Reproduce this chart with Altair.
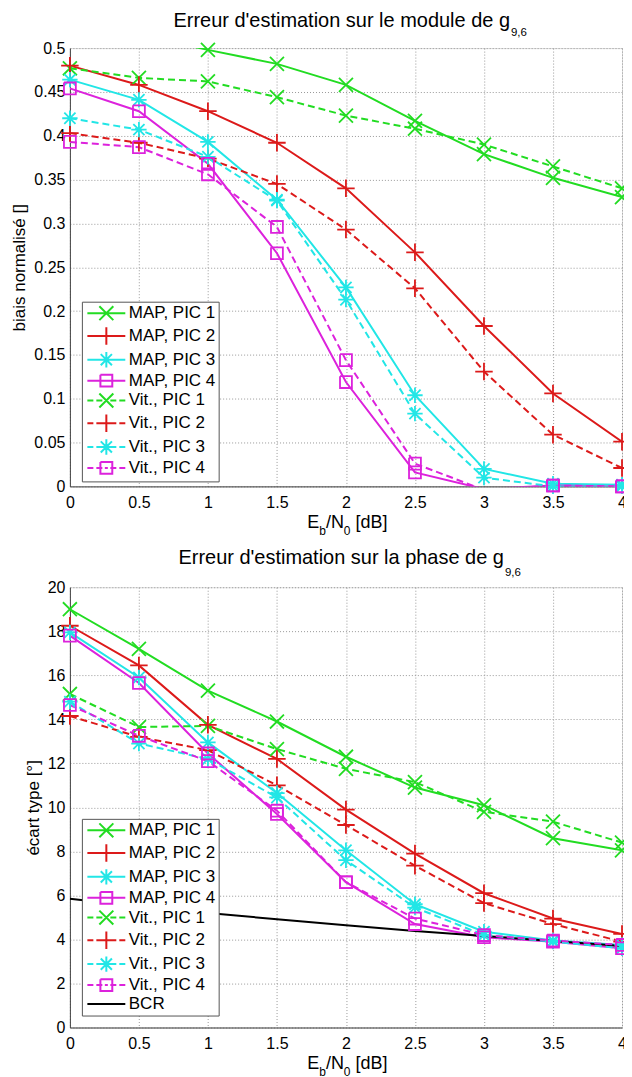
import altair as alt
import pandas as pd

# ---------------- data ----------------
x_vals = [0, 0.5, 1, 1.5, 2, 2.5, 3, 3.5, 4]

series_top = ["MAP, PIC 1", "MAP, PIC 2", "MAP, PIC 3", "MAP, PIC 4",
              "Vit., PIC 1", "Vit., PIC 2", "Vit., PIC 3", "Vit., PIC 4"]
series_bottom = series_top + ["BCR"]

# module (biais normalisé)
mod_map_pic1 = [0.530, 0.515, 0.498, 0.482, 0.458, 0.417, 0.379, 0.352, 0.330]
mod_map_pic2 = [0.480, 0.458, 0.428, 0.392, 0.340, 0.267, 0.183, 0.106, 0.051]
mod_map_pic3 = [0.464, 0.441, 0.393, 0.327, 0.227, 0.104, 0.020, 0.003, 0.002]
mod_map_pic4 = [0.454, 0.428, 0.368, 0.266, 0.119, 0.016, -0.003, 0.001, 0.000]
mod_vit_pic1 = [0.477, 0.466, 0.462, 0.444, 0.423, 0.408, 0.390, 0.365, 0.340]
mod_vit_pic2 = [0.403, 0.392, 0.374, 0.345, 0.293, 0.226, 0.131, 0.059, 0.021]
mod_vit_pic3 = [0.420, 0.407, 0.376, 0.326, 0.213, 0.083, 0.010, 0.000, 0.000]
mod_vit_pic4 = [0.393, 0.387, 0.356, 0.296, 0.144, 0.026, -0.004, 0.001, 0.000]

# phase (écart type, degrés)
ph_map_pic1 = [19.0, 17.2, 15.3, 13.9, 12.3, 10.9, 10.1, 8.6, 8.05]
ph_map_pic2 = [18.25, 16.45, 13.75, 12.2, 9.9, 7.9, 6.1, 4.95, 4.25]
ph_map_pic3 = [17.95, 15.9, 12.95, 10.65, 8.05, 5.6, 4.35, 3.95, 3.75]
ph_map_pic4 = [17.8, 15.65, 12.45, 9.7, 6.6, 4.7, 4.1, 3.9, 3.6]
ph_vit_pic1 = [15.15, 13.65, 13.7, 12.65, 11.75, 11.15, 9.8, 9.35, 8.4]
ph_vit_pic2 = [14.15, 13.2, 12.6, 11.0, 9.2, 7.35, 5.65, 4.7, 3.9]
ph_vit_pic3 = [14.8, 12.9, 12.2, 10.45, 7.6, 5.45, 4.2, 3.9, 3.6]
ph_vit_pic4 = [14.65, 13.25, 12.1, 9.85, 6.6, 4.95, 4.2, 3.95, 3.75]
ph_bcr = [5.85, 5.5, 5.2, 4.92, 4.65, 4.38, 4.16, 3.93, 3.7]

x_ticks = [0, 0.5, 1, 1.5, 2, 2.5, 3, 3.5, 4]
y_ticks_top = [0, 0.05, 0.1, 0.15, 0.2, 0.25, 0.3, 0.35, 0.4, 0.45, 0.5]
y_ticks_bottom = [0, 2, 4, 6, 8, 10, 12, 14, 16, 18, 20]

# ---------------- styles ----------------
FONT = "Liberation Sans"
GREEN, RED, CYAN, MAGENTA, BLACK = "#22dc22", "#dc1a1a", "#22e6e6", "#dc22dc", "#000000"
style = {
    "MAP, PIC 1": (GREEN, "x", False), "MAP, PIC 2": (RED, "plus", False),
    "MAP, PIC 3": (CYAN, "star", False), "MAP, PIC 4": (MAGENTA, "square", False),
    "Vit., PIC 1": (GREEN, "x", True), "Vit., PIC 2": (RED, "plus", True),
    "Vit., PIC 3": (CYAN, "star", True), "Vit., PIC 4": (MAGENTA, "square", True),
    "BCR": (BLACK, "none", False),
}
MARKERS = {
    "x": [[(-1, -1), (1, 1)], [(-1, 1), (1, -1)]],
    "plus": [[(-1.25, 0), (1.25, 0)], [(0, -1.25), (0, 1.25)]],
    "star": [[(-1.1, 0), (1.1, 0)], [(0, -1.1), (0, 1.1)],
             [(-0.8, -0.8), (0.8, 0.8)], [(-0.8, 0.8), (0.8, -0.8)]],
    "square": [[(-0.85, -0.85), (0.85, -0.85), (0.85, 0.85), (-0.85, 0.85), (-0.85, -0.85)]],
    "none": [],
}
U = 7.0  # px per path unit
SIZE = (2 * U) ** 2


def to_path(polys, dx=0.0):
    out = []
    for poly in polys:
        pts = [f"{x + dx:.3f},{y:.3f}" for x, y in poly]
        out.append("M" + "L".join(pts))
    return "".join(out)


LEG_CX = 13.0 / U
HALF = 19.0 / U
solid_seg = [[(-HALF, 0), (HALF, 0)]]
dash_px = [(-19, -13), (-10, -4), (-1.5, 1.5), (4, 10), (13, 19)]
dash_seg = [[(a / U, 0), (b / U, 0)] for a, b in dash_px]


def legend_path(name):
    _, m, dashed = style[name]
    return to_path((dash_seg if dashed else solid_seg) + MARKERS[m], LEG_CX)


def make_df(series, arrays):
    rows = []
    for s, arr in zip(series, arrays):
        _, m, dashed = style[s]
        for xv, yv in zip(x_vals, arr):
            rows.append({"x": xv, "y": yv, "series": s, "marker": m, "dashed": dashed})
    return pd.DataFrame(rows)


df_top = make_df(series_top, [mod_map_pic1, mod_map_pic2, mod_map_pic3, mod_map_pic4,
                              mod_vit_pic1, mod_vit_pic2, mod_vit_pic3, mod_vit_pic4])
df_bot = make_df(series_bottom, [ph_map_pic1, ph_map_pic2, ph_map_pic3, ph_map_pic4,
                                 ph_vit_pic1, ph_vit_pic2, ph_vit_pic3, ph_vit_pic4, ph_bcr])

W = 553


def text_layer(txt, px, py, size, align="left"):
    return alt.Chart(alt.Data(values=[{"t": txt}])).mark_text(
        font=FONT, fontSize=size, align=align, baseline="alphabetic", color="black"
    ).encode(x=alt.value(px), y=alt.value(py), text="t:N")


def panel(df, series, ymax, yticks, yfmt, ytitle, title_main, title_end, t_y, s_y,
          H, leg_y):
    colors = [style[s][0] for s in series]
    xenc = alt.X("x:Q", scale=alt.Scale(domain=[0, 4], nice=False),
                 axis=alt.Axis(values=x_ticks, format="~g", title=None, labelFlush=False,
                               labelFont=FONT, labelFontSize=16, labelColor="black",
                               labelPadding=8, ticks=False, tickSize=0, grid=True,
                               gridDash=[1, 2], gridColor="#999999", domainColor="#444444",
                               labelOverlap=False))
    yenc = alt.Y("y:Q", scale=alt.Scale(domain=[0, ymax], nice=False, zero=True),
                 axis=alt.Axis(values=yticks, format=yfmt, title=ytitle,
                               labelFont=FONT, labelFontSize=16, labelColor="black",
                               labelPadding=5, ticks=False, tickSize=0, grid=True,
                               gridDash=[1, 2], gridColor="#999999", domainColor="#444444",
                               titleFont=FONT, titleFontSize=17, titleFontWeight="normal",
                               titleColor="black", titlePadding=5, labelOverlap=False))
    cscale = alt.Scale(domain=series, range=colors)
    base = alt.Chart(df)
    layers = []
    leg = alt.Legend(orient="none", legendX=12, legendY=leg_y, title=None,
                     labelFont=FONT, labelFontSize=17, labelColor="black", labelLimit=300,
                     symbolSize=SIZE, symbolStrokeWidth=2, symbolOpacity=1,
                     labelOffset=27, rowPadding=-2.2,
                     padding=3, strokeColor="#555555", fillColor="white", cornerRadius=0)
    # legend-carrying layer first so its legend settings win the merge
    layers.append(base.transform_filter("datum.x == 0").mark_point(
        filled=False, opacity=0, strokeWidth=2, clip=True).encode(
        x=xenc, y=yenc,
        color=alt.Color("series:N", scale=cscale, legend=leg),
        shape=alt.Shape("series:N", scale=alt.Scale(domain=series,
                                                    range=[legend_path(s) for s in series]),
                        legend=leg)))
    layers.append(base.transform_filter("!datum.dashed").mark_line(clip=True, strokeWidth=2).encode(
        x=xenc, y=yenc, color=alt.Color("series:N", scale=cscale)))
    layers.append(base.transform_filter("datum.dashed").mark_line(
        clip=True, strokeWidth=2, strokeDash=[7, 4]).encode(
        x=xenc, y=yenc, color=alt.Color("series:N", scale=cscale)))
    for m in ["x", "plus", "star", "square"]:
        layers.append(base.transform_filter(
            f"datum.marker == '{m}' && datum.y >= 0 && datum.y <= {ymax}").mark_point(
            shape=to_path(MARKERS[m]), filled=False, size=SIZE, strokeWidth=1.8, opacity=1,
            clip=False).encode(x=xenc, y=yenc,
                               color=alt.Color("series:N", scale=cscale)))
    # title with subscript
    layers.append(text_layer(title_main, title_end, t_y, 20, align="right"))
    layers.append(text_layer("9,6", title_end + 1, s_y, 11.5))
    # x axis title E_b/N_0 [dB]
    layers.append(text_layer("E", 237.7, H + 42, 18))
    layers.append(text_layer("b", 249.7, H + 48.5, 12))
    layers.append(text_layer("/N", 256.4, H + 42, 18))
    layers.append(text_layer("0", 274.4, H + 48.5, 12))
    layers.append(text_layer("[dB]", 286.1, H + 42, 18))
    return alt.layer(*layers).properties(width=W, height=H)


top = panel(df_top, series_top, 0.5, y_ticks_top, ".2~f", "biais normalisé []",
            "Erreur d'estimation sur le module de g", 440.8, -21.3, -12, 439, 254)
bottom = panel(df_bot, series_bottom, 20, y_ticks_bottom, "d", "écart type [°]",
               "Erreur d'estimation sur la phase de g", 434.7, -23, -11.3, 441, 232)

chart = alt.vconcat(top, bottom, spacing=101, bounds="flush").resolve_scale(
    color="independent", shape="independent").resolve_legend(
    color="independent", shape="independent").properties(
    padding={"left": 2, "top": 1.3, "right": -11, "bottom": 0}).configure_view(
    stroke="#444444", strokeWidth=1).configure(background="white")

chart.save("out.html", embed_options={"renderer": "svg", "actions": False})
